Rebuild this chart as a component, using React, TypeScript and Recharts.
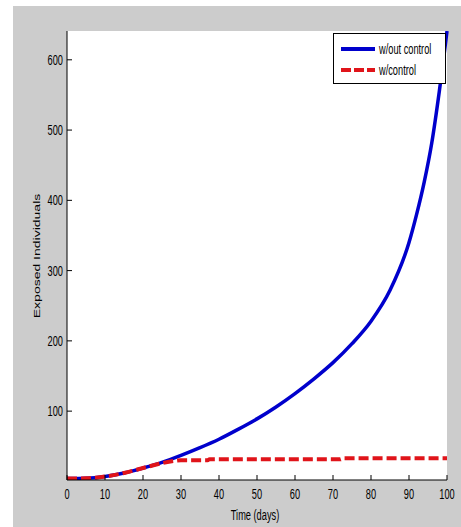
import React from "react";
import { LineChart, Line, XAxis, YAxis, CartesianGrid, Legend } from "recharts";

const timeNoControl = [0, 5, 10, 15, 20, 25, 30, 35, 40, 45, 50, 55, 60, 65, 70, 75, 80, 85, 90, 92, 94, 96, 98, 99, 100];
const exposedNoControl = [4, 4.5, 7, 12, 19, 27, 37, 48, 60, 74, 89, 106, 125, 146, 169, 196, 228, 272, 340, 380, 426, 482, 556, 597, 641];

const timeControl = [0, 5, 10, 15, 20, 25, 28, 30, 37, 37.5, 72, 72.5, 100];
const exposedControl = [4, 4.5, 7, 12, 19, 26, 29, 30, 30, 31.5, 31.5, 33, 33];

const xTicks = [0, 10, 20, 30, 40, 50, 60, 70, 80, 90, 100];
const yTicks = [100, 200, 300, 400, 500, 600];

const seriesNames = ["w/out control", "w/control"];
const xLabel = "Time (days)";
const yLabel = "Exposed Individuals";

const noControlData = timeNoControl.map((t, i) => ({ t, v: exposedNoControl[i] }));
const controlData = timeControl.map((t, i) => ({ t, v: exposedControl[i] }));

const FONT = "'Liberation Sans', Arial, Helvetica, sans-serif";
const SQ = 0.66;
const FS = 14;
const BLUE = "#0000cc";
const RED = "#e0141a";

const XTick = (props: any) => {
  const { x, y, payload } = props;
  return (
    <g transform={`translate(${x},${y + 19}) scale(${SQ},1)`}>
      <text x={0} y={0} textAnchor="middle" fontFamily={FONT} fontSize={FS} fill="#000">
        {payload.value}
      </text>
    </g>
  );
};

const YTick = (props: any) => {
  const { x, y, payload } = props;
  return (
    <g transform={`translate(${x},${y + 5}) scale(${SQ},1)`}>
      <text x={0} y={0} textAnchor="end" fontFamily={FONT} fontSize={FS} fill="#000">
        {payload.value}
      </text>
    </g>
  );
};

const LegendBox = () => (
  <div
    style={{
      width: 111,
      height: 49,
      border: "1px solid #000",
      background: "#fff",
      fontFamily: FONT,
      fontSize: FS,
      lineHeight: "16px",
      color: "#000",
      position: "relative",
    }}
  >
    <svg width={44} height={49} style={{ position: "absolute", left: 0, top: 0 }}>
      <line x1={7} x2={41} y1={15} y2={15} stroke={BLUE} strokeWidth={4} />
      <line x1={7} x2={41} y1={36} y2={36} stroke={RED} strokeWidth={4} strokeDasharray="10 3" />
    </svg>
    <div style={{ position: "absolute", left: 45, top: 7, whiteSpace: "nowrap", transform: `scaleX(${SQ})`, transformOrigin: "0 0" }}>
      {seriesNames[0]}
    </div>
    <div style={{ position: "absolute", left: 45, top: 28, whiteSpace: "nowrap", transform: `scaleX(${SQ})`, transformOrigin: "0 0" }}>
      {seriesNames[1]}
    </div>
  </div>
);

export default function App() {
  return (
    <div style={{ position: "absolute", left: 0, top: 0, width: 461, height: 527, background: "#fff" }}>
      <div style={{ position: "absolute", left: 13, top: 6, width: 448, height: 521, background: "#cccccc" }} />
      <div style={{ position: "absolute", left: 0, top: 0 }}>
        <LineChart width={461} height={527} margin={{ top: 31, right: 14, bottom: 17, left: 27 }}>
          <CartesianGrid fill="#ffffff" horizontal={false} vertical={false} stroke="none" />
          <XAxis
            xAxisId="b"
            dataKey="t"
            type="number"
            domain={[0, 100]}
            ticks={xTicks}
            height={30}
            tickSize={-5}
            tickMargin={5}
            stroke="#000"
            tick={<XTick />}
            tickLine={{ stroke: "#000" }}
            axisLine={{ stroke: "#000" }}
            label={{
              value: xLabel,
              content: () => (
                <g transform={`translate(255,520) scale(${SQ},1)`}>
                  <text x={0} y={0} textAnchor="middle" fontFamily={FONT} fontSize={FS} fill="#000">
                    {xLabel}
                  </text>
                </g>
              ),
            }}
          />
          <XAxis
            xAxisId="top"
            orientation="top"
            dataKey="t"
            type="number"
            domain={[0, 100]}
            ticks={xTicks}
            height={0}
            tickSize={-5}
            tick={false}
            stroke="#000"
            tickLine={{ stroke: "#000" }}
            axisLine={{ stroke: "#000" }}
          />
          <YAxis
            yAxisId="l"
            type="number"
            domain={[2, 641]}
            ticks={yTicks}
            width={40}
            tickSize={-5}
            tickMargin={9}
            allowDataOverflow
            stroke="#000"
            tick={<YTick />}
            tickLine={{ stroke: "#000" }}
            axisLine={{ stroke: "#000" }}
            label={{
              value: yLabel,
              content: () => (
                <g transform={`translate(40,256) scale(${SQ},1) rotate(-90)`}>
                  <text x={0} y={0} textAnchor="middle" fontFamily={FONT} fontSize={FS} fill="#000">
                    {yLabel}
                  </text>
                </g>
              ),
            }}
          />
          <YAxis
            yAxisId="r"
            orientation="right"
            type="number"
            domain={[2, 641]}
            ticks={yTicks}
            width={0}
            tickSize={-5}
            tick={false}
            allowDataOverflow
            stroke="#000"
            tickLine={{ stroke: "#000" }}
            axisLine={{ stroke: "#000" }}
          />
          <Line
            xAxisId="b"
            yAxisId="l"
            data={noControlData}
            dataKey="v"
            type="monotone"
            stroke={BLUE}
            strokeWidth={3.5}
            dot={false}
            name={seriesNames[0]}
            isAnimationActive={false}
          />
          <Line
            xAxisId="b"
            yAxisId="l"
            data={controlData}
            dataKey="v"
            type="monotone"
            stroke={RED}
            strokeWidth={4}
            strokeDasharray="10 4"
            dot={false}
            name={seriesNames[1]}
            isAnimationActive={false}
          />
          <Legend
            layout="horizontal"
            verticalAlign="middle"
            align="center"
            content={() => <LegendBox />}
            wrapperStyle={{ position: "absolute", left: 333, top: 33, width: 113, height: 51 }}
          />
        </LineChart>
      </div>
    </div>
  );
}
